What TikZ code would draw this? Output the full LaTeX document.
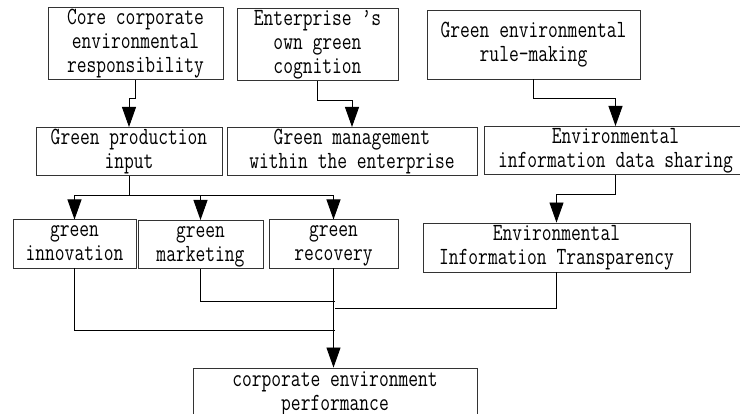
\documentclass[tikz,border=0pt]{standalone}
\usepackage{graphicx}
\usetikzlibrary{arrows.meta,calc}
\newcommand{\tallt}[1]{\scalebox{1}[1.3]{\begin{tabular}{@{}c@{}}#1\end{tabular}}}
\begin{document}
\begin{tikzpicture}[x=1pt,y=-1pt,
  box/.style={draw=black!80,line width=0.9pt,inner sep=0pt,align=center,
    font=\ttfamily\fontsize{19}{18.5}\selectfont},
  conn/.style={draw=black,line width=0.9pt},
  arr/.style={conn,-{Triangle[width=14pt,length=20pt]}}]
\useasboundingbox (0,0) rectangle (740,414);
\newcommand{\bx}[6]{\node[box,minimum width=#4-#2,minimum height=#5-#3] (#1) at ({(#2+#4)/2},{(#3+#5)/2}) {\tallt{#6}};}
\bx{b1}{48}{10}{223}{77}{Core corporate\\environmental\\responsibility}
\bx{b2}{237}{10}{398}{79}{Enterprise ’s\\own green\\cognition}
\bx{b3}{427}{10}{640}{79}{Green environmental\\rule-making}
\bx{b4}{36}{129}{222}{174}{Green production\\input}
\bx{b5}{227}{129}{477}{174}{Green management\\within the enterprise}
\bx{b6}{484}{129}{747}{172}{Environmental\\information data sharing}
\bx{b7}{13}{224}{136}{264}{green\\innovation}
\bx{b8}{138}{224}{263}{265}{green\\marketing}
\bx{b9}{269}{224}{398}{264}{green\\recovery}
\bx{b10}{423}{223}{690}{272}{Environmental\\Information Transparency}
\bx{b11}{193}{368}{477}{420}{corporate environment\\performance}
% top connectors
\draw[arr] (b1.south) -- ++(0,18) -| (b4.north);
\draw[arr] (b2.south) -- ++(0,19) -| (b5.north);
\draw[arr] (b3.south) -- ++(0,19) -| (b6.north);
% production input to three
\coordinate (j4) at ($(b4.south)+(0,19)$);
\draw[conn] (b4.south) -- (j4);
\draw[arr] (j4) -| (b7.north);
\draw[arr] (j4) -| (b8.north);
\draw[arr] (j4) -| (b9.north);
% data sharing to transparency
\draw[arr] (b6.south) -- ++(0,19) -| (b10.north);
% into performance
\draw[conn] (b7.south) |- ($(b11.north)+(0,-37)$);
\draw[conn] (b8.south) |- ($(b11.north)+(0,-66)$);
\draw[conn] (b10.south) |- ($(b11.north)+(0,-59)$);
\draw[arr] (b9.south) -- (b9.south |- b11.north);
\end{tikzpicture}
\end{document}
